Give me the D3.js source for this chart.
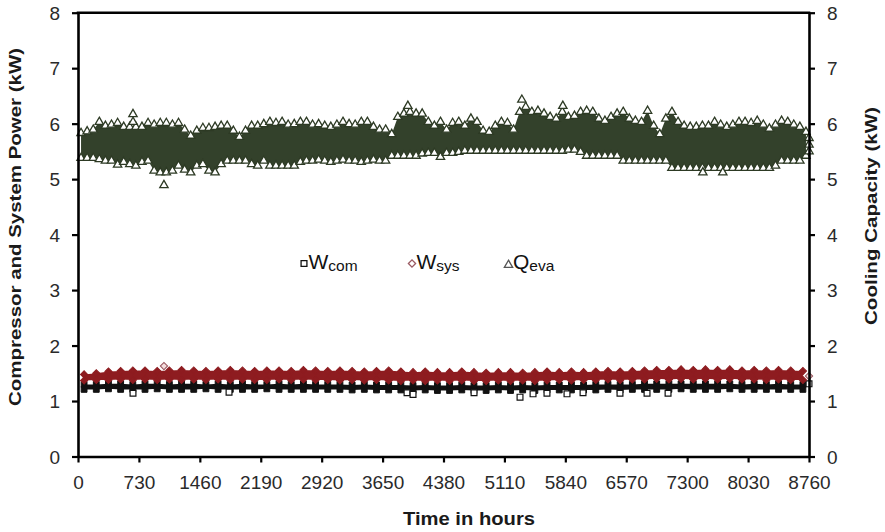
<!DOCTYPE html>
<html>
<head>
<meta charset="utf-8">
<script src="https://cdn.jsdelivr.net/npm/d3@7"></script>
<style>
  html, body { margin: 0; padding: 0; background: #fff; }
  svg { display: block; }
  text { font-family: "Liberation Sans", Arial, sans-serif; }
</style>
</head>
<body>
<svg id="chart" width="885" height="532"></svg>
<script>
// ---------------- DATA ----------------
const xTicks = [0, 730, 1460, 2190, 2920, 3650, 4380, 5110, 5840, 6570, 7300, 8030, 8760];
const yTicks = [0, 1, 2, 3, 4, 5, 6, 7, 8];

// Cooling capacity Q_eva, envelope of the hourly scatter, one value per 73-hour block
const qBinHours = 73;
const qHigh = [5.83,5.86,5.89,6.03,5.96,5.98,6.01,5.94,5.94,5.94,
               5.94,6.01,5.98,6.01,6.01,5.98,6.01,5.89,5.78,5.87,
               5.92,5.92,5.94,5.96,5.96,5.87,5.76,5.87,5.96,5.96,
               5.99,6.03,6.01,6.03,5.98,5.99,6.03,6.03,5.98,5.99,
               5.96,5.94,5.98,6.03,5.99,5.98,6.03,6.03,5.94,5.89,
               5.89,5.81,6.12,6.18,6.21,6.18,6.18,6.03,5.96,6.03,
               5.89,6.01,6.03,5.96,6.09,6.03,5.87,5.85,5.96,6.03,
               6.01,5.89,6.21,6.30,6.21,6.23,6.18,6.12,6.09,6.21,
               6.12,6.14,6.21,6.23,6.21,6.09,6.05,6.12,6.18,6.21,
               6.09,6.05,6.03,6.23,5.96,5.81,6.09,6.21,6.03,5.96,
               5.94,5.94,5.96,5.96,6.03,5.98,5.94,5.98,6.03,6.03,
               6.01,6.05,5.98,5.91,5.98,6.05,6.03,5.98,5.94,5.85];
const qLow  = [5.38,5.38,5.38,5.36,5.33,5.33,5.26,5.31,5.27,5.24,
               5.31,5.33,5.15,5.12,5.12,5.15,5.24,5.17,5.12,5.24,
               5.27,5.15,5.12,5.27,5.33,5.33,5.33,5.33,5.27,5.24,
               5.33,5.24,5.24,5.24,5.24,5.24,5.31,5.33,5.33,5.35,
               5.33,5.31,5.33,5.35,5.33,5.33,5.31,5.33,5.35,5.33,
               5.33,5.42,5.42,5.42,5.42,5.42,5.46,5.47,5.47,5.40,
               5.47,5.47,5.49,5.51,5.51,5.51,5.51,5.51,5.51,5.51,
               5.51,5.51,5.51,5.51,5.51,5.51,5.51,5.51,5.51,5.51,
               5.53,5.53,5.49,5.42,5.42,5.42,5.42,5.42,5.42,5.33,
               5.33,5.33,5.33,5.33,5.33,5.33,5.33,5.20,5.20,5.20,
               5.20,5.20,5.20,5.20,5.20,5.20,5.20,5.20,5.20,5.20,
               5.20,5.20,5.20,5.20,5.24,5.33,5.33,5.33,5.33,5.42];
const qOutlierHours  = [659, 659, 1030, 3953, 5319, 5810, 7488, 7727, 8760, 8760, 8760];
const qOutlierValues = [6.17, 6.03, 4.89, 6.32, 6.43, 6.32, 5.12, 5.12, 5.50, 5.62, 5.74];

// System power W_sys and compressor power W_com, one value per 146-hour block
const wBinHours = 146;
const wSysHigh = [1.48,1.50,1.53,1.54,1.55,1.55,1.54,1.55,1.56,1.55,
                  1.54,1.55,1.56,1.55,1.54,1.55,1.55,1.54,1.56,1.55,
                  1.54,1.55,1.54,1.53,1.54,1.55,1.53,1.52,1.53,1.52,
                  1.52,1.53,1.52,1.51,1.52,1.52,1.51,1.52,1.53,1.52,
                  1.53,1.52,1.53,1.54,1.53,1.54,1.55,1.56,1.56,1.57,
                  1.56,1.57,1.56,1.57,1.55,1.56,1.55,1.56,1.55,1.54];
const wSysLow  = [1.37,1.38,1.38,1.39,1.38,1.39,1.38,1.39,1.38,1.39,
                  1.38,1.39,1.38,1.39,1.38,1.38,1.39,1.38,1.39,1.38,
                  1.38,1.37,1.38,1.37,1.38,1.37,1.36,1.37,1.36,1.37,
                  1.36,1.37,1.36,1.36,1.37,1.36,1.37,1.36,1.37,1.38,
                  1.37,1.38,1.38,1.39,1.38,1.39,1.39,1.40,1.39,1.40,
                  1.39,1.40,1.39,1.40,1.39,1.39,1.38,1.39,1.38,1.38];
const wSysOutlierHours  = [1030, 8760];
const wSysOutlierValues = [1.63, 1.45];

const wComHigh = [1.30,1.30,1.31,1.31,1.30,1.31,1.31,1.30,1.31,1.31,
                  1.30,1.31,1.30,1.31,1.30,1.30,1.31,1.30,1.31,1.30,
                  1.30,1.30,1.29,1.30,1.29,1.29,1.29,1.28,1.29,1.28,
                  1.28,1.29,1.28,1.28,1.29,1.28,1.29,1.28,1.29,1.29,
                  1.29,1.29,1.30,1.30,1.30,1.30,1.31,1.31,1.31,1.31,
                  1.31,1.31,1.31,1.31,1.30,1.31,1.30,1.31,1.30,1.30];
const wComLow  = [1.21,1.21,1.22,1.21,1.21,1.21,1.22,1.21,1.21,1.21,
                  1.22,1.21,1.21,1.21,1.21,1.22,1.21,1.21,1.21,1.21,
                  1.21,1.21,1.20,1.21,1.20,1.20,1.20,1.19,1.20,1.19,
                  1.19,1.20,1.19,1.19,1.20,1.19,1.20,1.19,1.20,1.20,
                  1.20,1.20,1.20,1.21,1.20,1.21,1.21,1.21,1.21,1.22,
                  1.21,1.21,1.21,1.22,1.21,1.21,1.21,1.21,1.21,1.21];
const wComOutlierHours  = [659, 1810, 3943, 4015, 4746, 5297, 5453, 5620, 5860, 6052, 6495, 6819, 7071, 8760];
const wComOutlierValues = [1.14, 1.16, 1.15, 1.12, 1.15, 1.07, 1.13, 1.14, 1.13, 1.15, 1.14, 1.14, 1.14, 1.31];

const legendNames = ["W", "W", "Q"];
const legendSubs  = ["com", "sys", "eva"];

const xTitle = "Time in hours";
const yLeftTitle = "Compressor and System Power (kW)";
const yRightTitle = "Cooling Capacity (kW)";

// ---------------- DRAWING ----------------
const svg = d3.select("#chart");
const X0 = 78, X1 = 809, Y0 = 456.5, Y1 = 12.7;
const x = d3.scaleLinear().domain([0, 8760]).range([X0, X1]);
const y = d3.scaleLinear().domain([0, 8]).range([Y0, Y1]);

const colQ = "#2d3a24", colQFill = "#33412b", colSys = "#8e1c20", colCom = "#111111";

function bins(hi, lo, step) {
  return hi.map((h, i) => ({ h: (i + 0.5) * step, hi: h, lo: lo[i] }));
}
const qData = bins(qHigh, qLow, qBinHours);
const sysData = bins(wSysHigh, wSysLow, wBinHours);
const comData = bins(wComHigh, wComLow, wBinHours);

const area = d3.area().x(d => x(d.h)).y0(d => y(d.lo)).y1(d => y(d.hi));

const triangle = d3.symbol().type(d3.symbolTriangle).size(30);
const square = d3.symbol().type(d3.symbolSquare).size(34);
const diamond = d3.symbol().type(d3.symbolSquare).size(26);

const plot = svg.append("g");

// W_com (black squares)
plot.append("path").datum(comData).attr("d", area).attr("fill", colCom);
["hi", "lo"].forEach(k => {
  plot.append("g").selectAll("path").data(comData).join("path")
    .attr("d", square)
    .attr("transform", d => `translate(${x(d.h)},${y(d[k])})`)
    .attr("fill", colCom).attr("stroke", colCom).attr("stroke-width", 1);
});
plot.append("g").selectAll("path").data(wComOutlierHours).join("path")
  .attr("d", square)
  .attr("transform", (h, i) => `translate(${x(h)},${y(wComOutlierValues[i])})`)
  .attr("fill", "#fff").attr("stroke", colCom).attr("stroke-width", 1.2);

// W_sys (red diamonds)
plot.append("path").datum(sysData).attr("d", area).attr("fill", colSys);
["hi", "lo"].forEach(k => {
  plot.append("g").selectAll("path").data(sysData).join("path")
    .attr("d", diamond)
    .attr("transform", d => `translate(${x(d.h)},${y(d[k])}) rotate(45)`)
    .attr("fill", colSys).attr("stroke", colSys).attr("stroke-width", 1);
});
plot.append("g").selectAll("path").data(wSysOutlierHours).join("path")
  .attr("d", diamond)
  .attr("transform", (h, i) => `translate(${x(h)},${y(wSysOutlierValues[i])}) rotate(45)`)
  .attr("fill", "#f4dede").attr("stroke", "#9a5a62").attr("stroke-width", 1.1);

// Q_eva (green triangles)
plot.append("path").datum(qData).attr("d", area).attr("fill", colQFill);
["hi", "lo"].forEach(k => {
  plot.append("g").selectAll("path").data(qData).join("path")
    .attr("d", triangle)
    .attr("transform", d => `translate(${x(d.h)},${y(d[k])})`)
    .attr("fill", "#fff").attr("stroke", colQ).attr("stroke-width", 1.3);
});
plot.append("g").selectAll("path").data(qOutlierHours).join("path")
  .attr("d", triangle)
  .attr("transform", (h, i) => `translate(${x(h)},${y(qOutlierValues[i])})`)
  .attr("fill", "#fff").attr("stroke", colQ).attr("stroke-width", 1.3);

// ---------------- AXES ----------------
const tickFont = 19;
const gx = svg.append("g").attr("transform", `translate(0,${Y0})`)
  .call(d3.axisBottom(x).tickValues(xTicks).tickSize(6).tickSizeOuter(0).tickFormat(d3.format("d")));
gx.selectAll("text").attr("y", 32).attr("dy", 0);

const gl = svg.append("g").attr("transform", `translate(${X0},0)`)
  .call(d3.axisLeft(y).tickValues(yTicks).tickSize(6).tickSizeOuter(0).tickFormat(d3.format("d")));
gl.selectAll("text").attr("x", -18).attr("dy", "0.35em");

const gr = svg.append("g").attr("transform", `translate(${X1},0)`)
  .call(d3.axisRight(y).tickValues(yTicks).tickSize(6).tickSizeOuter(0).tickFormat(d3.format("d")));
gr.selectAll("text").attr("x", 18).attr("dy", "0.35em");

[gx, gl, gr].forEach(g => {
  g.select(".domain").attr("stroke", "#000").attr("stroke-width", 2.6);
  g.selectAll(".tick line").attr("stroke", "#000").attr("stroke-width", 2.2);
  g.selectAll("text").attr("font-size", tickFont).attr("fill", "#2a2a2a")
    .attr("font-family", "'Liberation Sans', Arial, sans-serif");
});
// top border
svg.append("line").attr("x1", X0 - 1.3).attr("x2", X1 + 1.3).attr("y1", Y1).attr("y2", Y1)
  .attr("stroke", "#000").attr("stroke-width", 2.4);

// ---------------- TITLES ----------------
svg.append("text").text(xTitle)
  .attr("x", 469).attr("y", 525).attr("text-anchor", "middle")
  .attr("font-size", 18).attr("font-weight", "bold").attr("fill", "#1a1a1a")
  .attr("textLength", 132).attr("lengthAdjust", "spacingAndGlyphs");

svg.append("text").text(yLeftTitle)
  .attr("transform", "translate(21,227) rotate(-90)").attr("text-anchor", "middle")
  .attr("font-size", 17).attr("font-weight", "bold").attr("fill", "#1a1a1a")
  .attr("textLength", 358).attr("lengthAdjust", "spacingAndGlyphs");

svg.append("text").text(yRightTitle)
  .attr("transform", "translate(877,216) rotate(-90)").attr("text-anchor", "middle")
  .attr("font-size", 17).attr("font-weight", "bold").attr("fill", "#1a1a1a")
  .attr("textLength", 218).attr("lengthAdjust", "spacingAndGlyphs");

// ---------------- LEGEND ----------------
const legendX = [304, 412, 508.5];
const legendSymbols = [
  { sym: square, rot: 0, fill: "#fff", stroke: "#111" },
  { sym: diamond, rot: 45, fill: "#fff", stroke: "#9a5a62" },
  { sym: triangle, rot: 0, fill: "#fff", stroke: "#555" }
];
legendNames.forEach((name, i) => {
  const g = svg.append("g");
  const s = legendSymbols[i];
  g.append("path").attr("d", s.sym)
    .attr("transform", `translate(${legendX[i]},${i === 2 ? 265 : 263.5}) rotate(${s.rot})`)
    .attr("fill", s.fill).attr("stroke", s.stroke).attr("stroke-width", 1.3);
  const t = g.append("text").attr("x", legendX[i] + 4.5).attr("y", 268.5)
    .attr("font-size", 21).attr("fill", "#111");
  t.append("tspan").text(name);
  t.append("tspan").text(legendSubs[i]).attr("font-size", 15.5).attr("dy", 2);
});
</script>
</body>
</html>
